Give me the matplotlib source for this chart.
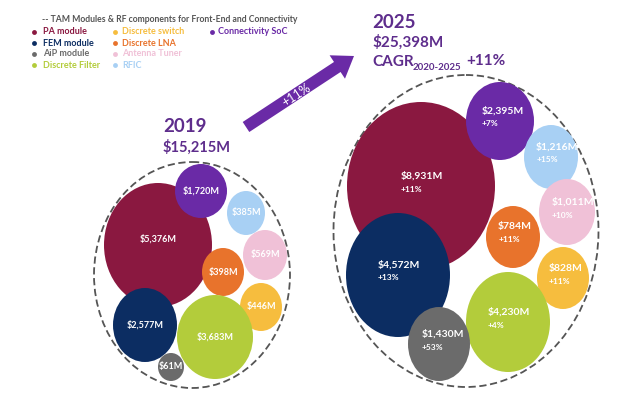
import matplotlib
matplotlib.use("Agg")
from matplotlib import pyplot as plt
from matplotlib.patches import Ellipse, FancyArrow

plt.rcParams['font.family'] = ['Lato', 'DejaVu Sans']

# segments (legend order) and colours
segments = ["PA module", "FEM module", "AiP module", "Discrete Filter",
            "Discrete switch", "Discrete LNA", "Antenna Tuner", "RFIC",
            "Connectivity SoC"]
colors = ["#8a1840", "#0c2d62", "#6b6b6b", "#b3cc3b",
          "#f6bd3e", "#e8732c", "#f0c1d7", "#a8d0f4", "#6a2aa6"]

# market values, $M
values_2019 = [5376, 2577, 61, 3683, 446, 398, 569, 385, 1720]
values_2025 = [8931, 4572, 1430, 4230, 828, 784, 1011, 1216, 2395]
cagr_2025 = [11, 13, 53, 4, 11, 11, 10, 15, 7]
total_2019 = 15215
total_2025 = 25398
total_cagr = 11

# bubble layout in pixels: centre x, centre y, half width, half height
lay_2019 = [(158, 245, 54, 62), (145, 325, 32, 37), (171, 367, 13, 14),
            (215, 337, 38, 42), (261, 307, 21, 24), (223, 272, 21, 24),
            (265, 255, 22, 25), (246, 213, 19, 22), (201, 191, 26, 27)]
lay_2025 = [(421, 186, 74, 84), (398, 275, 52, 62), (439, 344, 31, 37),
            (508, 322, 42, 50), (563, 278, 26, 31), (513, 237, 27, 31),
            (567, 212, 28, 33), (551, 157, 27, 32), (500, 121, 34, 39)]
draw_order = [0, 8, 7, 6, 5, 4, 1, 3, 2]

fig = plt.figure(figsize=(6.4, 4.04), dpi=100)
ax = fig.add_axes([0, 0, 1, 1])
ax.set_xlim(0, 640)
ax.set_ylim(404, 0)
ax.axis("off")

purple = "#5e2d8c"

# dashed outlines
ax.add_patch(Ellipse((192, 275), 196, 226, fill=False, ls=(0, (4, 2)),
                     lw=1.3, ec="#555555", zorder=1))
ax.add_patch(Ellipse((466, 231), 265, 312, fill=False, ls=(0, (4, 2)),
                     lw=1.3, ec="#555555", zorder=1))

for k, i in enumerate(draw_order):
    cx, cy, rx, ry = lay_2019[i]
    ax.add_patch(Ellipse((cx, cy), 2 * rx, 2 * ry, fc=colors[i], ec="none", zorder=2 + k))
    dy = -6 if i == 0 else 0
    ax.text(cx, cy + dy, "${:,}M".format(values_2019[i]), color="white",
            fontsize=6.5, fontweight="bold", ha="center", va="center", zorder=20)

    cx, cy, rx, ry = lay_2025[i]
    ax.add_patch(Ellipse((cx, cy), 2 * rx, 2 * ry, fc=colors[i], ec="none", zorder=2 + k))
    tx = cx - min(rx * 0.55, 20)
    ax.text(tx, cy - 10, "${:,}M".format(values_2025[i]), color="white",
            fontsize=7.5, fontweight="bold", ha="left", va="center", zorder=20)
    ax.text(tx, cy + 3, "+{}%".format(cagr_2025[i]), color="white",
            fontsize=6, fontweight="bold", ha="left", va="center", zorder=20)

# headings
ax.text(163, 127, "2019", color=purple, fontsize=13.5, fontweight="bold", va="center")
ax.text(163, 147, "${:,}M".format(total_2019), color=purple, fontsize=10.5,
        fontweight="bold", va="center")
ax.text(372, 22, "2025", color=purple, fontsize=13.5, fontweight="bold", va="center")
ax.text(372, 42, "${:,}M".format(total_2025), color=purple, fontsize=11,
        fontweight="bold", va="center")
ax.text(372, 62, "CAGR", color=purple, fontsize=11, fontweight="bold", va="center")
ax.text(413, 67, "2020-2025", color=purple, fontsize=7, fontweight="bold", va="center")
ax.text(466, 61, "+{}%".format(total_cagr), color=purple, fontsize=11,
        fontweight="bold", va="center")

# growth arrow
ax.add_patch(FancyArrow(246, 127, 108, -71, width=12, head_width=28, head_length=20,
                        length_includes_head=True, fc="#6a2aa6", ec="none", zorder=5))
ax.text(296, 95, "+{}%".format(total_cagr), color="white", fontsize=9,
        rotation=33, ha="center", va="center", zorder=6)

# legend
ax.text(42, 19, "-- TAM Modules & RF components for Front-End and Connectivity",
        color="#555555", fontsize=6.2, fontweight="bold", va="center")
leg_cols = [(34, 43), (115, 122), (212, 218)]
leg_rows = [32, 43, 54, 65]
leg_pos = [(0, 0), (0, 1), (0, 2), (0, 3), (1, 0), (1, 1), (1, 2), (1, 3), (2, 0)]
for i, name in enumerate(segments):
    c, r = leg_pos[i]
    ax.plot(leg_cols[c][0], leg_rows[r], "o", ms=3.5, color=colors[i], mec="none")
    ax.text(leg_cols[c][1], leg_rows[r], name, color=colors[i], fontsize=6.5,
            fontweight="bold", va="center")

fig.savefig("out.png", dpi=100)
